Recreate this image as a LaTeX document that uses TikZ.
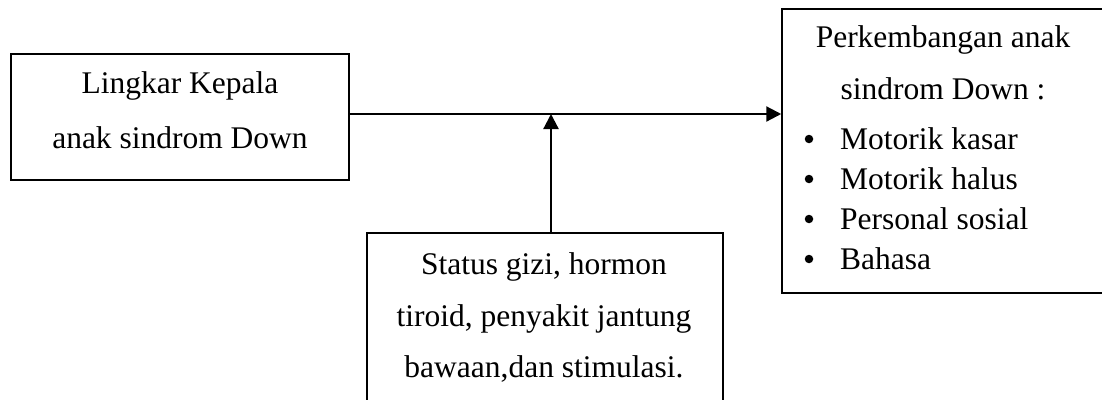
\documentclass[tikz,border=0pt]{standalone}
\usepackage{fontspec}
\setmainfont{Liberation Serif}
\usetikzlibrary{arrows.meta}
\begin{document}
\begin{tikzpicture}[x=1pt,y=-1pt,
  box/.style={draw=black,line width=1.5pt,inner sep=0pt},
  txt/.style={anchor=base,inner sep=0pt,font=\fontsize{31.5}{36}\selectfont},
  itm/.style={anchor=base west,inner sep=0pt,font=\fontsize{31.5}{36}\selectfont},
  bul/.style={circle,fill=black,inner sep=0pt,minimum size=8.5pt},
  arr/.style={line width=2.2pt,-{Triangle[length=15pt,width=15pt]}}]
\useasboundingbox (0,0) rectangle (1102,399);
\node[box,minimum width=338pt,minimum height=126pt] (L) at (180,117) {};
\node[box,minimum width=322pt,minimum height=284pt] (R) at (943,151) {};
\node[box,minimum width=356pt,minimum height=197pt] (B) at (545,331.5) {};
\coordinate (j) at (551,114);
% left text
\node[txt] (l1) at (180,93) {Lingkar Kepala};
\node[txt] (l2) at (180,148) {anak sindrom Down};
% bottom text
\node[txt] (b1) at (544,274) {Status gizi, hormon};
\node[txt] (b2) at (544,326) {tiroid, penyakit jantung};
\node[txt] (b3) at (544,377) {bawaan,dan stimulasi.};
% right text
\node[txt] (r1) at (943,47) {Perkembangan anak};
\node[txt] (r2) at (943,99) {sindrom Down :};
\node[bul] (i1b) at (809,139) {};
\node[itm] (i1) at (840,149) {Motorik kasar};
\node[bul] (i2b) at (809,179) {};
\node[itm] (i2) at (840,189) {Motorik halus};
\node[bul] (i3b) at (809,219) {};
\node[itm] (i3) at (840,229) {Personal sosial};
\node[bul] (i4b) at (809,259) {};
\node[itm] (i4) at (840,269) {Bahasa};
% connectors
\draw[arr] (L.east |- j) -- (R.west |- j);
\draw[arr] (B.north -| j) -- (j);
\end{tikzpicture}
\end{document}
